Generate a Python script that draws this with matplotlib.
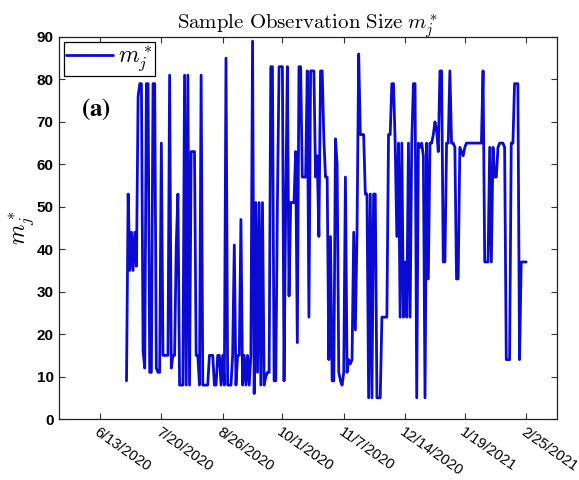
import matplotlib
matplotlib.use("Agg")
import matplotlib.pyplot as plt
import pandas as pd

# daily sample observation size, starting 6/29/2020
start_date = "2020-06-29"
m_star = [
    9, 53, 35, 44, 35, 44, 36, 76, 79, 79,
    16, 12, 79, 79, 11, 11, 79, 79, 12, 11,
    11, 65, 15, 15, 15, 15, 81, 12, 15, 15,
    41, 53, 8, 8, 8, 81, 8, 81, 8, 63,
    63, 63, 15, 15, 8, 81, 8, 8, 8, 8,
    15, 15, 15, 8, 8, 15, 15, 8, 15, 8,
    85, 8, 8, 8, 15, 41, 8, 15, 15, 47,
    8, 15, 8, 15, 8, 15, 89, 6, 51, 11,
    51, 8, 51, 8, 10, 11, 11, 83, 83, 9,
    9, 51, 83, 83, 83, 9, 51, 83, 29, 51,
    51, 51, 63, 18, 83, 83, 57, 57, 57, 82,
    24, 82, 82, 82, 57, 62, 43, 82, 82, 66,
    57, 57, 14, 43, 9, 9, 66, 60, 11, 9,
    8, 11, 57, 11, 14, 13, 14, 44, 21, 44,
    86, 67, 67, 67, 53, 53, 5, 53, 5, 53,
    53, 5, 5, 5, 24, 24, 24, 24, 67, 67,
    79, 79, 65, 43, 65, 24, 65, 24, 37, 24,
    65, 24, 65, 79, 79, 5, 65, 64, 65, 62,
    5, 65, 33, 65, 65, 67, 70, 68, 63, 82,
    82, 37, 37, 65, 65, 82, 65, 65, 64, 33,
    33, 64, 63, 62, 64, 65, 65, 65, 65, 65,
    65, 65, 65, 65, 65, 82, 37, 37, 37, 64,
    37, 64, 57, 57, 64, 65, 65, 65, 64, 14,
    14, 14, 65, 65, 79, 79, 79, 14, 37, 37,
    37, 37,
]
tick_dates = ["2020-06-13", "2020-07-20", "2020-08-26", "2020-10-01",
              "2020-11-07", "2020-12-14", "2021-01-19", "2021-02-25"]
tick_labels = ["6/13/2020", "7/20/2020", "8/26/2020", "10/1/2020",
               "11/7/2020", "12/14/2020", "1/19/2021", "2/25/2021"]
y_ticks = list(range(0, 91, 10))

plt.rcParams["mathtext.fontset"] = "cm"

dates = pd.date_range(start_date, periods=len(m_star), freq="D")

fig = plt.figure(figsize=(5.79, 4.8), dpi=100)
ax = fig.add_axes([0.102, 0.127, 0.860, 0.796])

ax.plot(dates, m_star, color="#0a0ad2", lw=2.0, label=r"$m_j^*$",
        solid_joinstyle="round", solid_capstyle="round")

ax.set_xlim(pd.Timestamp("2020-05-19 08:00"), pd.Timestamp("2021-03-15 14:00"))
ax.set_ylim(0, 90)
ax.set_xticks(pd.to_datetime(tick_dates))
ax.set_xticklabels(tick_labels, rotation=-35, ha="left", va="top",
                   rotation_mode="anchor", fontsize=10.5, family="Liberation Sans")
ax.set_yticks(y_ticks)
ax.set_yticklabels([str(v) for v in y_ticks], fontsize=11,
                   fontweight="bold", family="Liberation Sans")
ax.tick_params(direction="in", length=4, width=0.8, top=True, right=True,
               color="#333333", pad=4)
for spine in ax.spines.values():
    spine.set_linewidth(0.9)
    spine.set_color("#222222")

ax.set_title(r"$\mathrm{Sample\ Observation\ Size}\ m_j^*$", fontsize=15, pad=5)
ax.set_ylabel(r"$m_j^*$", fontsize=17, labelpad=0)

leg = ax.legend(loc="upper left", fontsize=17, handlelength=2.0,
                handletextpad=0.2, borderpad=0.1, borderaxespad=0.2,
                fancybox=False, framealpha=1)
leg.get_frame().set_edgecolor("black")
leg.get_frame().set_linewidth(0.9)

# panel tag in a Times-like bold face
ax.text(0.045, 0.795, r"$\mathbf{(a)}$", transform=ax.transAxes, fontsize=18,
        math_fontfamily="stix")

fig.savefig("out.png", dpi=100)
